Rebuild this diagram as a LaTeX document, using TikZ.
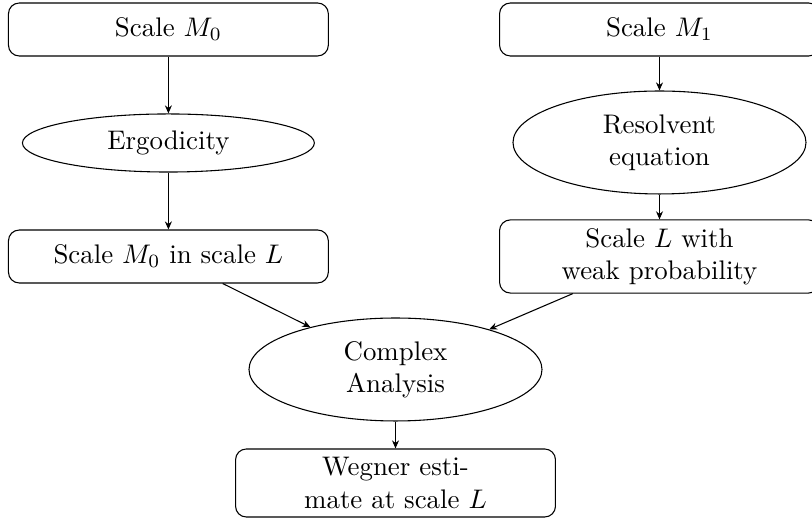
\documentclass[tikz,border=0pt]{standalone}
\usetikzlibrary{shapes.geometric,arrows.meta}
\begin{document}
\begin{tikzpicture}[x=0.372pt,y=-0.372pt,
  box/.style={draw,rounded corners=4pt,minimum width=119pt,inner sep=0pt,align=center},
  ell/.style={draw,ellipse,inner sep=0pt,align=center},
  arr/.style={-{Stealth[length=3pt,width=2.6pt]}}]
\useasboundingbox (0,0) rectangle (812,521);
\node[box,minimum height=19.7pt] (b0) at (168.4,29.5) {Scale $M_0$};
\node[ell,minimum width=108.6pt,minimum height=21.6pt] (erg) at (168.4,143) {Ergodicity};
\node[box,minimum height=19.7pt] (b0L) at (168.4,256.5) {Scale $M_0$ in scale $L$};
\node[box,minimum height=19.7pt] (b1) at (659.5,29.5) {Scale $M_1$};
\node[ell,minimum width=109pt,minimum height=38.3pt] (res) at (659.5,142.5) {Resolvent\\equation};
\node[box,minimum height=27.2pt] (weak) at (659.5,256.5) {Scale $L$ with\\weak probability};
\node[ell,minimum width=109pt,minimum height=38.3pt] (cplx) at (395.5,369.5) {Complex\\Analysis};
\node[box,minimum height=25.3pt] (weg) at (395.5,483) {Wegner esti-\\mate at scale $L$};
\draw[arr] (b0) -- (erg);
\draw[arr] (erg) -- (b0L);
\draw[arr] (b1) -- (res);
\draw[arr] (res) -- (weak);
\draw[arr] (b0L) -- (cplx);
\draw[arr] (weak) -- (cplx);
\draw[arr] (cplx) -- (weg);
\end{tikzpicture}
\end{document}
